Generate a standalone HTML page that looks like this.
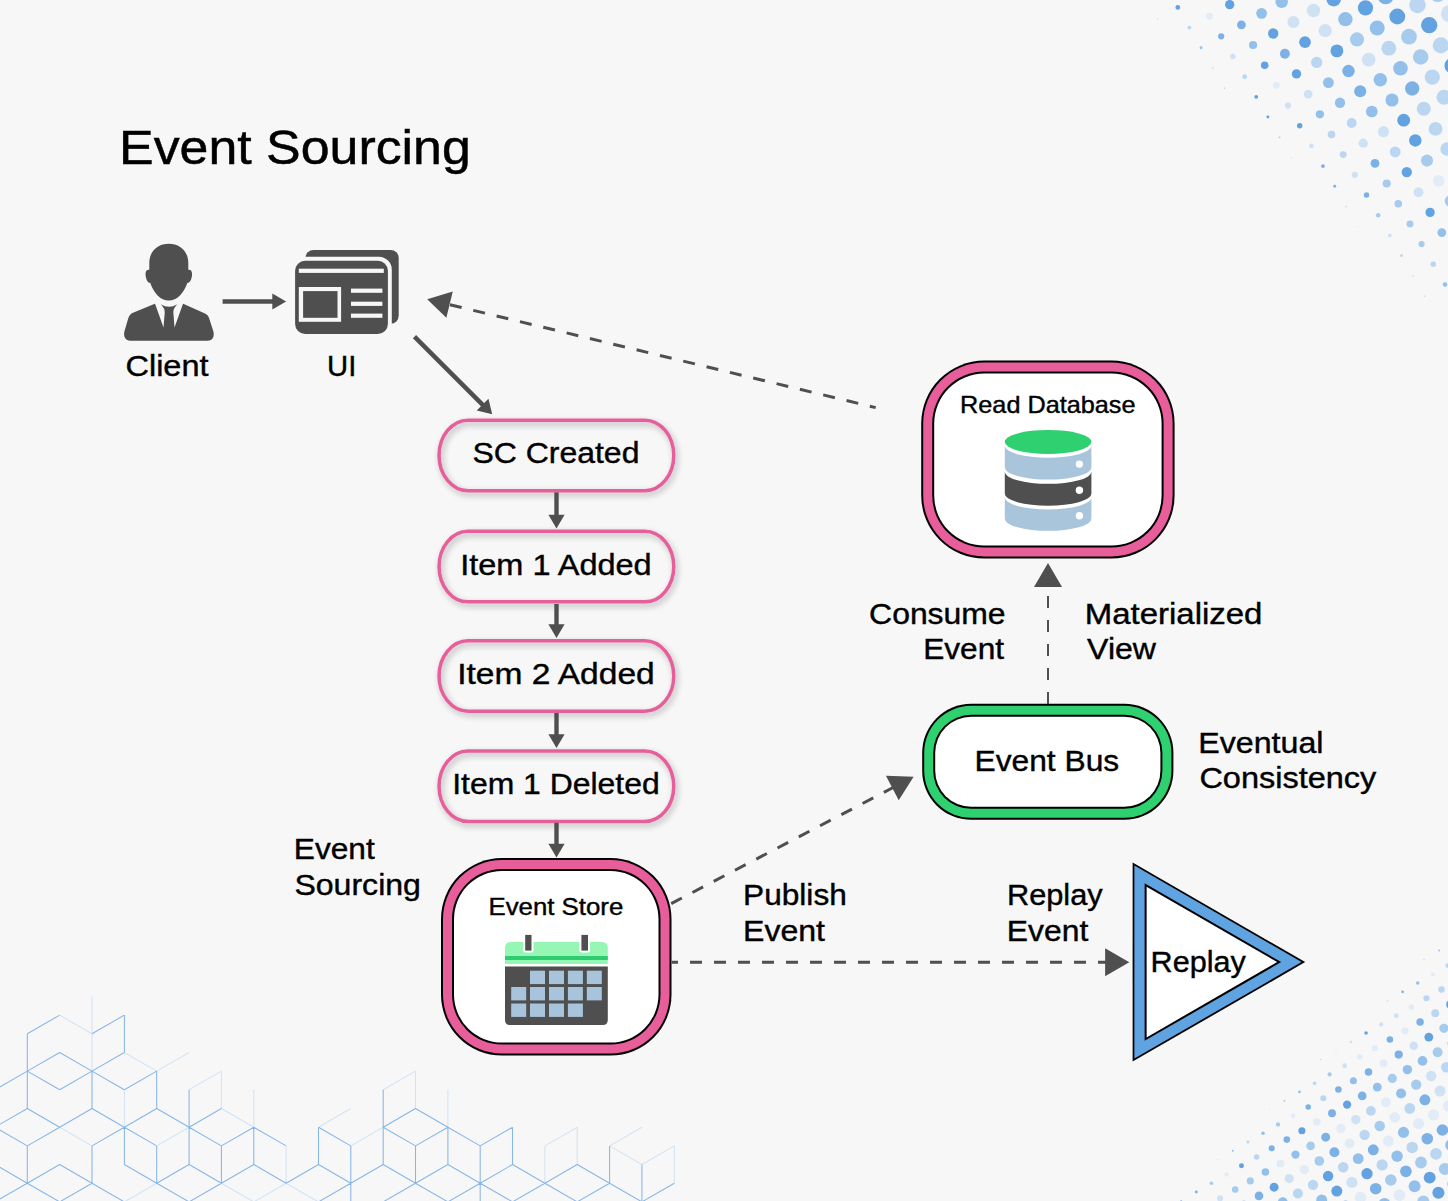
<!DOCTYPE html>
<html><head><meta charset="utf-8"><style>
html,body{margin:0;padding:0;background:#f7f7f7;}
svg{display:block;}
text{font-family:"Liberation Sans",sans-serif;fill:#000;}
</style></head><body>
<svg width="1448" height="1201" viewBox="0 0 1448 1201">
<defs>
<filter id="sh" x="-20%" y="-30%" width="140%" height="170%">
<feGaussianBlur in="SourceAlpha" stdDeviation="3"/>
<feOffset dx="2" dy="3" result="b"/>
<feComponentTransfer><feFuncA type="linear" slope="0.3"/></feComponentTransfer>
<feMerge><feMergeNode/><feMergeNode in="SourceGraphic"/></feMerge>
</filter>
</defs>
<rect width="1448" height="1201" fill="#f7f7f7"/>
<path d="M59.7,1015.1L92.0,1033.8M92.0,996.4L92.0,1033.8M92.0,1033.8L92.0,1071.1M124.4,1052.5L156.7,1071.1M156.7,1071.1L189.1,1052.5M124.4,1089.8L124.4,1127.2M189.1,1089.8L221.4,1071.1M221.4,1071.1L221.4,1108.5M253.8,1089.8L253.8,1127.2M221.4,1108.5L253.8,1127.2M59.7,1127.2L92.0,1145.9M156.7,1145.9L189.1,1127.2M124.4,1201.9L156.7,1183.2M221.4,1183.2L253.8,1201.9M286.1,1145.9L286.1,1183.2M253.8,1201.9L286.1,1183.2M286.1,1183.2L318.5,1201.9M318.5,1127.2L350.8,1108.5M350.8,1145.9L383.2,1127.2M383.2,1089.8L415.5,1071.1M415.5,1071.1L415.5,1108.5M447.9,1089.8L447.9,1127.2M544.9,1145.9L544.9,1183.2M544.9,1145.9L577.2,1127.2M577.2,1127.2L577.2,1164.5M609.6,1145.9L642.0,1164.5M609.6,1145.9L642.0,1127.2M641.9,1164.5L674.3,1145.9M674.3,1145.9L674.3,1183.2" stroke="#d3e3f3" stroke-width="1.05" fill="none"/>
<path d="M27.3,1033.8L59.7,1015.1M92.0,1033.8L124.3,1015.1M124.4,1015.1L124.4,1052.5M27.3,1033.8L27.3,1071.1M27.3,1071.1L59.7,1052.5M59.7,1052.5L92.0,1071.1M92.0,1071.1L124.3,1052.5M-5.1,1089.8L27.3,1071.1M27.3,1071.1L59.7,1089.8M59.7,1089.8L92.0,1071.1M92.0,1071.1L124.3,1089.8M124.4,1089.8L156.7,1071.1M27.3,1071.1L27.3,1108.5M92.0,1071.1L92.0,1108.5M156.7,1071.1L156.7,1108.5M189.1,1089.8L189.1,1127.2M-5.1,1127.2L27.3,1108.5M27.3,1108.5L59.7,1127.2M59.7,1127.2L92.0,1108.5M92.0,1108.5L124.3,1127.2M124.4,1127.2L156.7,1108.5M156.7,1108.5L189.1,1127.2M189.1,1127.2L221.4,1108.5M253.8,1127.2L286.1,1145.9M-5.1,1127.2L27.3,1145.9M27.3,1145.9L59.7,1127.2M92.0,1145.9L124.3,1127.2M124.4,1127.2L156.7,1145.9M189.1,1127.2L221.4,1145.9M221.4,1145.9L253.8,1127.2M27.3,1145.9L27.3,1183.2M92.0,1145.9L92.0,1183.2M124.4,1127.2L124.4,1164.5M156.7,1145.9L156.7,1183.2M189.1,1127.2L189.1,1164.5M221.4,1145.9L221.4,1183.2M253.8,1127.2L253.8,1164.5M-5.1,1164.5L27.3,1183.2M27.3,1183.2L59.7,1164.5M59.7,1164.5L92.0,1183.2M124.4,1164.5L156.7,1183.2M156.7,1183.2L189.1,1164.5M189.1,1164.5L221.4,1183.2M221.4,1183.2L253.8,1164.5M253.8,1164.5L286.1,1183.2M-5.1,1201.9L27.3,1183.2M27.3,1183.2L59.7,1201.9M59.7,1201.9L92.0,1183.2M92.0,1183.2L124.3,1201.9M156.7,1183.2L189.1,1201.9M189.1,1201.9L221.4,1183.2M286.1,1183.2L318.5,1164.5M318.5,1164.5L350.8,1183.2M350.8,1183.2L383.2,1164.5M383.2,1164.5L415.5,1183.2M415.5,1183.2L447.9,1164.5M447.9,1164.5L480.2,1183.2M318.5,1201.9L350.8,1183.2M350.8,1183.2L350.8,1220.6M383.2,1201.9L415.5,1183.2M415.5,1183.2L447.9,1201.9M447.9,1201.9L480.2,1183.2M318.5,1127.2L318.5,1164.5M318.5,1127.2L350.8,1145.9M350.8,1145.9L350.8,1183.2M383.2,1089.8L383.2,1127.2M383.2,1127.2L415.5,1108.5M415.5,1108.5L447.9,1127.2M383.2,1127.2L415.5,1145.9M415.5,1145.9L447.9,1127.2M447.9,1127.2L480.2,1145.9M383.2,1127.2L383.2,1164.5M415.5,1145.9L415.5,1183.2M447.9,1127.2L447.9,1164.5M480.2,1145.9L480.2,1183.2M480.2,1145.9L512.6,1127.2M512.5,1127.2L512.5,1164.5M480.2,1183.2L480.2,1220.6M480.2,1183.2L512.6,1164.5M512.5,1164.5L544.9,1183.2M544.9,1183.2L577.2,1164.5M577.2,1164.5L609.6,1183.2M609.6,1145.9L609.6,1183.2M641.9,1164.5L641.9,1201.9M641.9,1201.9L674.3,1183.2M609.6,1183.2L642.0,1201.9M480.2,1183.2L512.6,1201.9M512.5,1201.9L544.9,1183.2M544.9,1183.2L577.2,1201.9M577.2,1201.9L609.6,1183.2" stroke="#86b6e7" stroke-width="1.05" fill="none"/>
<circle cx="1145.9" cy="-1.3" r="1.04" fill="#62a2e1"/>
<circle cx="1157.6" cy="18.9" r="0.55" fill="#bad6f0"/>
<circle cx="1177.8" cy="7.4" r="2.35" fill="#62a2e1"/>
<circle cx="1189.4" cy="27.6" r="1.93" fill="#bad6f0"/>
<circle cx="1201.1" cy="47.7" r="1.49" fill="#93c0ea"/>
<circle cx="1212.7" cy="67.9" r="1.03" fill="#cfe2f4"/>
<circle cx="1224.4" cy="88.1" r="0.54" fill="#93c0ea"/>
<circle cx="1197.9" cy="-4.1" r="3.79" fill="#bad6f0"/>
<circle cx="1209.6" cy="16.1" r="3.46" fill="#e2ecf7"/>
<circle cx="1221.2" cy="36.3" r="3.10" fill="#7cb1e5"/>
<circle cx="1232.9" cy="56.5" r="2.73" fill="#cfe2f4"/>
<circle cx="1244.6" cy="76.7" r="2.34" fill="#bad6f0"/>
<circle cx="1256.2" cy="96.8" r="1.92" fill="#62a2e1"/>
<circle cx="1267.9" cy="117.0" r="1.48" fill="#62a2e1"/>
<circle cx="1279.5" cy="137.2" r="1.02" fill="#bad6f0"/>
<circle cx="1291.2" cy="157.4" r="0.52" fill="#bad6f0"/>
<circle cx="1229.7" cy="4.6" r="4.67" fill="#62a2e1"/>
<circle cx="1241.4" cy="24.8" r="4.39" fill="#7cb1e5"/>
<circle cx="1253.1" cy="45.0" r="4.09" fill="#93c0ea"/>
<circle cx="1264.7" cy="65.2" r="3.78" fill="#62a2e1"/>
<circle cx="1276.4" cy="85.4" r="3.45" fill="#e2ecf7"/>
<circle cx="1288.0" cy="105.5" r="3.10" fill="#cfe2f4"/>
<circle cx="1299.7" cy="125.7" r="2.72" fill="#62a2e1"/>
<circle cx="1311.4" cy="145.9" r="2.33" fill="#cfe2f4"/>
<circle cx="1323.0" cy="166.1" r="1.91" fill="#7cb1e5"/>
<circle cx="1334.7" cy="186.3" r="1.47" fill="#7cb1e5"/>
<circle cx="1346.3" cy="206.5" r="1.01" fill="#cfe2f4"/>
<circle cx="1358.0" cy="226.7" r="0.51" fill="#cfe2f4"/>
<circle cx="1249.9" cy="-6.9" r="5.64" fill="#a6cbed"/>
<circle cx="1261.6" cy="13.3" r="5.42" fill="#93c0ea"/>
<circle cx="1273.2" cy="33.5" r="5.18" fill="#62a2e1"/>
<circle cx="1284.9" cy="53.7" r="4.93" fill="#7cb1e5"/>
<circle cx="1296.5" cy="73.9" r="4.67" fill="#62a2e1"/>
<circle cx="1308.2" cy="94.1" r="4.39" fill="#cfe2f4"/>
<circle cx="1319.9" cy="114.3" r="4.09" fill="#93c0ea"/>
<circle cx="1331.5" cy="134.4" r="3.77" fill="#bad6f0"/>
<circle cx="1343.2" cy="154.6" r="3.44" fill="#bad6f0"/>
<circle cx="1354.8" cy="174.8" r="3.09" fill="#cfe2f4"/>
<circle cx="1366.5" cy="195.0" r="2.72" fill="#7cb1e5"/>
<circle cx="1378.2" cy="215.2" r="2.32" fill="#a6cbed"/>
<circle cx="1389.8" cy="235.4" r="1.91" fill="#cfe2f4"/>
<circle cx="1401.5" cy="255.6" r="1.46" fill="#bad6f0"/>
<circle cx="1413.1" cy="275.8" r="1.00" fill="#cfe2f4"/>
<circle cx="1424.8" cy="296.0" r="0.50" fill="#7cb1e5"/>
<circle cx="1281.7" cy="1.8" r="6.24" fill="#93c0ea"/>
<circle cx="1293.4" cy="22.0" r="6.05" fill="#cfe2f4"/>
<circle cx="1305.0" cy="42.2" r="5.85" fill="#62a2e1"/>
<circle cx="1316.7" cy="62.4" r="5.64" fill="#bad6f0"/>
<circle cx="1328.4" cy="82.6" r="5.41" fill="#93c0ea"/>
<circle cx="1340.0" cy="102.8" r="5.18" fill="#93c0ea"/>
<circle cx="1351.7" cy="123.0" r="4.93" fill="#bad6f0"/>
<circle cx="1363.3" cy="143.2" r="4.66" fill="#cfe2f4"/>
<circle cx="1375.0" cy="163.3" r="4.38" fill="#7cb1e5"/>
<circle cx="1386.7" cy="183.5" r="4.08" fill="#a6cbed"/>
<circle cx="1398.3" cy="203.7" r="3.77" fill="#a6cbed"/>
<circle cx="1410.0" cy="223.9" r="3.43" fill="#a6cbed"/>
<circle cx="1421.6" cy="244.1" r="3.08" fill="#a6cbed"/>
<circle cx="1433.3" cy="264.3" r="2.71" fill="#bad6f0"/>
<circle cx="1445.0" cy="284.5" r="2.31" fill="#93c0ea"/>
<circle cx="1456.6" cy="304.7" r="1.90" fill="#bad6f0"/>
<circle cx="1301.9" cy="-9.7" r="6.90" fill="#bad6f0"/>
<circle cx="1313.5" cy="10.5" r="6.75" fill="#cfe2f4"/>
<circle cx="1325.2" cy="30.7" r="6.59" fill="#cfe2f4"/>
<circle cx="1336.9" cy="50.9" r="6.42" fill="#62a2e1"/>
<circle cx="1348.5" cy="71.1" r="6.24" fill="#7cb1e5"/>
<circle cx="1360.2" cy="91.3" r="6.05" fill="#7cb1e5"/>
<circle cx="1371.8" cy="111.5" r="5.85" fill="#93c0ea"/>
<circle cx="1383.5" cy="131.7" r="5.63" fill="#cfe2f4"/>
<circle cx="1395.2" cy="151.9" r="5.41" fill="#bad6f0"/>
<circle cx="1406.8" cy="172.1" r="5.17" fill="#62a2e1"/>
<circle cx="1418.5" cy="192.2" r="4.92" fill="#cfe2f4"/>
<circle cx="1430.1" cy="212.4" r="4.65" fill="#62a2e1"/>
<circle cx="1441.8" cy="232.6" r="4.37" fill="#93c0ea"/>
<circle cx="1453.5" cy="252.8" r="4.08" fill="#a6cbed"/>
<circle cx="1333.7" cy="-0.9" r="7.30" fill="#62a2e1"/>
<circle cx="1345.4" cy="19.2" r="7.17" fill="#93c0ea"/>
<circle cx="1357.0" cy="39.4" r="7.04" fill="#a6cbed"/>
<circle cx="1368.7" cy="59.6" r="6.89" fill="#cfe2f4"/>
<circle cx="1380.3" cy="79.8" r="6.74" fill="#93c0ea"/>
<circle cx="1392.0" cy="100.0" r="6.58" fill="#93c0ea"/>
<circle cx="1403.7" cy="120.2" r="6.41" fill="#62a2e1"/>
<circle cx="1415.3" cy="140.4" r="6.23" fill="#62a2e1"/>
<circle cx="1427.0" cy="160.6" r="6.04" fill="#a6cbed"/>
<circle cx="1438.6" cy="180.8" r="5.84" fill="#e2ecf7"/>
<circle cx="1450.3" cy="201.0" r="5.63" fill="#a6cbed"/>
<circle cx="1365.5" cy="7.8" r="7.64" fill="#62a2e1"/>
<circle cx="1377.2" cy="28.0" r="7.53" fill="#93c0ea"/>
<circle cx="1388.8" cy="48.2" r="7.42" fill="#bad6f0"/>
<circle cx="1400.5" cy="68.3" r="7.30" fill="#93c0ea"/>
<circle cx="1412.2" cy="88.5" r="7.17" fill="#7cb1e5"/>
<circle cx="1423.8" cy="108.7" r="7.03" fill="#bad6f0"/>
<circle cx="1435.5" cy="128.9" r="6.89" fill="#bad6f0"/>
<circle cx="1447.1" cy="149.1" r="6.74" fill="#bad6f0"/>
<circle cx="1458.8" cy="169.3" r="6.58" fill="#bad6f0"/>
<circle cx="1385.7" cy="-3.7" r="8.01" fill="#7cb1e5"/>
<circle cx="1397.3" cy="16.5" r="7.93" fill="#62a2e1"/>
<circle cx="1409.0" cy="36.7" r="7.84" fill="#a6cbed"/>
<circle cx="1420.7" cy="56.9" r="7.74" fill="#a6cbed"/>
<circle cx="1432.3" cy="77.1" r="7.64" fill="#bad6f0"/>
<circle cx="1444.0" cy="97.2" r="7.53" fill="#bad6f0"/>
<circle cx="1455.6" cy="117.4" r="7.42" fill="#62a2e1"/>
<circle cx="1417.5" cy="5.0" r="8.24" fill="#bad6f0"/>
<circle cx="1429.2" cy="25.2" r="8.17" fill="#62a2e1"/>
<circle cx="1440.8" cy="45.4" r="8.09" fill="#bad6f0"/>
<circle cx="1452.5" cy="65.6" r="8.01" fill="#62a2e1"/>
<circle cx="1437.7" cy="-6.5" r="8.50" fill="#a6cbed"/>
<circle cx="1449.3" cy="13.7" r="8.44" fill="#cfe2f4"/>
<circle cx="1166.1" cy="1209.5" r="0.57" fill="#a6cbed"/>
<circle cx="1181.2" cy="1200.7" r="1.02" fill="#a6cbed"/>
<circle cx="1196.3" cy="1192.0" r="1.44" fill="#7cb1e5"/>
<circle cx="1205.0" cy="1207.1" r="2.81" fill="#bad6f0"/>
<circle cx="1202.6" cy="1168.2" r="0.40" fill="#e2ecf7"/>
<circle cx="1211.4" cy="1183.3" r="1.82" fill="#a6cbed"/>
<circle cx="1220.1" cy="1198.3" r="3.08" fill="#cfe2f4"/>
<circle cx="1217.7" cy="1159.4" r="0.55" fill="#cfe2f4"/>
<circle cx="1226.5" cy="1174.5" r="2.17" fill="#e2ecf7"/>
<circle cx="1235.2" cy="1189.6" r="3.33" fill="#a6cbed"/>
<circle cx="1243.9" cy="1204.7" r="4.15" fill="#93c0ea"/>
<circle cx="1232.8" cy="1150.7" r="1.00" fill="#93c0ea"/>
<circle cx="1241.5" cy="1165.8" r="2.49" fill="#62a2e1"/>
<circle cx="1250.3" cy="1180.9" r="3.56" fill="#a6cbed"/>
<circle cx="1259.0" cy="1195.9" r="4.32" fill="#7cb1e5"/>
<circle cx="1247.9" cy="1142.0" r="1.42" fill="#bad6f0"/>
<circle cx="1256.6" cy="1157.0" r="2.79" fill="#bad6f0"/>
<circle cx="1265.4" cy="1172.1" r="3.77" fill="#93c0ea"/>
<circle cx="1274.1" cy="1187.2" r="4.47" fill="#62a2e1"/>
<circle cx="1282.8" cy="1202.3" r="4.96" fill="#93c0ea"/>
<circle cx="1263.0" cy="1133.2" r="1.80" fill="#93c0ea"/>
<circle cx="1271.7" cy="1148.3" r="3.06" fill="#7cb1e5"/>
<circle cx="1280.4" cy="1163.4" r="3.96" fill="#e2ecf7"/>
<circle cx="1289.2" cy="1178.5" r="4.61" fill="#cfe2f4"/>
<circle cx="1297.9" cy="1193.5" r="5.06" fill="#bad6f0"/>
<circle cx="1306.7" cy="1208.6" r="5.39" fill="#7cb1e5"/>
<circle cx="1269.3" cy="1109.4" r="0.52" fill="#cfe2f4"/>
<circle cx="1278.0" cy="1124.5" r="2.15" fill="#a6cbed"/>
<circle cx="1286.8" cy="1139.6" r="3.31" fill="#7cb1e5"/>
<circle cx="1295.5" cy="1154.6" r="4.14" fill="#93c0ea"/>
<circle cx="1304.3" cy="1169.7" r="4.73" fill="#e2ecf7"/>
<circle cx="1313.0" cy="1184.8" r="5.15" fill="#bad6f0"/>
<circle cx="1321.7" cy="1199.9" r="5.45" fill="#93c0ea"/>
<circle cx="1284.4" cy="1100.7" r="0.98" fill="#a6cbed"/>
<circle cx="1293.1" cy="1115.7" r="2.48" fill="#e2ecf7"/>
<circle cx="1301.9" cy="1130.8" r="3.54" fill="#62a2e1"/>
<circle cx="1310.6" cy="1145.9" r="4.31" fill="#a6cbed"/>
<circle cx="1319.3" cy="1161.0" r="4.85" fill="#a6cbed"/>
<circle cx="1328.1" cy="1176.1" r="5.24" fill="#62a2e1"/>
<circle cx="1336.8" cy="1191.1" r="5.51" fill="#62a2e1"/>
<circle cx="1345.6" cy="1206.2" r="5.71" fill="#7cb1e5"/>
<circle cx="1299.5" cy="1091.9" r="1.39" fill="#93c0ea"/>
<circle cx="1308.2" cy="1107.0" r="2.77" fill="#7cb1e5"/>
<circle cx="1316.9" cy="1122.1" r="3.76" fill="#e2ecf7"/>
<circle cx="1325.7" cy="1137.2" r="4.46" fill="#7cb1e5"/>
<circle cx="1334.4" cy="1152.2" r="4.96" fill="#7cb1e5"/>
<circle cx="1343.2" cy="1167.3" r="5.32" fill="#bad6f0"/>
<circle cx="1351.9" cy="1182.4" r="5.57" fill="#cfe2f4"/>
<circle cx="1360.6" cy="1197.5" r="5.75" fill="#e2ecf7"/>
<circle cx="1314.5" cy="1083.2" r="1.78" fill="#bad6f0"/>
<circle cx="1323.3" cy="1098.3" r="3.05" fill="#bad6f0"/>
<circle cx="1332.0" cy="1113.3" r="3.95" fill="#7cb1e5"/>
<circle cx="1340.8" cy="1128.4" r="4.60" fill="#e2ecf7"/>
<circle cx="1349.5" cy="1143.5" r="5.06" fill="#e2ecf7"/>
<circle cx="1358.2" cy="1158.6" r="5.39" fill="#93c0ea"/>
<circle cx="1367.0" cy="1173.7" r="5.62" fill="#62a2e1"/>
<circle cx="1375.7" cy="1188.7" r="5.79" fill="#7cb1e5"/>
<circle cx="1384.5" cy="1203.8" r="5.91" fill="#93c0ea"/>
<circle cx="1320.9" cy="1059.4" r="0.49" fill="#62a2e1"/>
<circle cx="1329.6" cy="1074.4" r="2.13" fill="#a6cbed"/>
<circle cx="1338.4" cy="1089.5" r="3.30" fill="#7cb1e5"/>
<circle cx="1347.1" cy="1104.6" r="4.13" fill="#62a2e1"/>
<circle cx="1355.8" cy="1119.7" r="4.73" fill="#cfe2f4"/>
<circle cx="1364.6" cy="1134.8" r="5.15" fill="#bad6f0"/>
<circle cx="1373.3" cy="1149.8" r="5.45" fill="#7cb1e5"/>
<circle cx="1382.1" cy="1164.9" r="5.67" fill="#bad6f0"/>
<circle cx="1390.8" cy="1180.0" r="5.82" fill="#a6cbed"/>
<circle cx="1399.5" cy="1195.1" r="5.93" fill="#e2ecf7"/>
<circle cx="1408.3" cy="1210.2" r="6.01" fill="#93c0ea"/>
<circle cx="1336.0" cy="1050.6" r="0.95" fill="#e2ecf7"/>
<circle cx="1344.7" cy="1065.7" r="2.46" fill="#cfe2f4"/>
<circle cx="1353.4" cy="1080.8" r="3.53" fill="#93c0ea"/>
<circle cx="1362.2" cy="1095.9" r="4.30" fill="#7cb1e5"/>
<circle cx="1370.9" cy="1110.9" r="4.84" fill="#bad6f0"/>
<circle cx="1379.7" cy="1126.0" r="5.23" fill="#a6cbed"/>
<circle cx="1388.4" cy="1141.1" r="5.51" fill="#e2ecf7"/>
<circle cx="1397.1" cy="1156.2" r="5.71" fill="#93c0ea"/>
<circle cx="1405.9" cy="1171.3" r="5.85" fill="#7cb1e5"/>
<circle cx="1414.6" cy="1186.3" r="5.95" fill="#93c0ea"/>
<circle cx="1423.4" cy="1201.4" r="6.02" fill="#a6cbed"/>
<circle cx="1351.0" cy="1041.9" r="1.37" fill="#cfe2f4"/>
<circle cx="1359.8" cy="1057.0" r="2.76" fill="#e2ecf7"/>
<circle cx="1368.5" cy="1072.0" r="3.75" fill="#7cb1e5"/>
<circle cx="1377.3" cy="1087.1" r="4.45" fill="#93c0ea"/>
<circle cx="1386.0" cy="1102.2" r="4.95" fill="#e2ecf7"/>
<circle cx="1394.7" cy="1117.3" r="5.31" fill="#e2ecf7"/>
<circle cx="1403.5" cy="1132.4" r="5.57" fill="#93c0ea"/>
<circle cx="1412.2" cy="1147.4" r="5.75" fill="#bad6f0"/>
<circle cx="1421.0" cy="1162.5" r="5.88" fill="#a6cbed"/>
<circle cx="1429.7" cy="1177.6" r="5.97" fill="#62a2e1"/>
<circle cx="1438.4" cy="1192.7" r="6.04" fill="#62a2e1"/>
<circle cx="1447.2" cy="1207.8" r="6.08" fill="#bad6f0"/>
<circle cx="1366.1" cy="1033.1" r="1.76" fill="#62a2e1"/>
<circle cx="1374.9" cy="1048.2" r="3.03" fill="#e2ecf7"/>
<circle cx="1383.6" cy="1063.3" r="3.94" fill="#e2ecf7"/>
<circle cx="1392.3" cy="1078.4" r="4.59" fill="#a6cbed"/>
<circle cx="1401.1" cy="1093.5" r="5.05" fill="#93c0ea"/>
<circle cx="1409.8" cy="1108.5" r="5.38" fill="#bad6f0"/>
<circle cx="1418.6" cy="1123.6" r="5.62" fill="#e2ecf7"/>
<circle cx="1427.3" cy="1138.7" r="5.78" fill="#7cb1e5"/>
<circle cx="1436.0" cy="1153.8" r="5.90" fill="#bad6f0"/>
<circle cx="1444.8" cy="1168.9" r="5.99" fill="#a6cbed"/>
<circle cx="1453.5" cy="1183.9" r="6.05" fill="#7cb1e5"/>
<circle cx="1372.5" cy="1009.3" r="0.47" fill="#e2ecf7"/>
<circle cx="1381.2" cy="1024.4" r="2.11" fill="#cfe2f4"/>
<circle cx="1389.9" cy="1039.5" r="3.29" fill="#7cb1e5"/>
<circle cx="1398.7" cy="1054.6" r="4.12" fill="#7cb1e5"/>
<circle cx="1407.4" cy="1069.6" r="4.72" fill="#93c0ea"/>
<circle cx="1416.2" cy="1084.7" r="5.14" fill="#a6cbed"/>
<circle cx="1424.9" cy="1099.8" r="5.45" fill="#7cb1e5"/>
<circle cx="1433.6" cy="1114.9" r="5.66" fill="#e2ecf7"/>
<circle cx="1442.4" cy="1130.0" r="5.82" fill="#7cb1e5"/>
<circle cx="1451.1" cy="1145.0" r="5.93" fill="#93c0ea"/>
<circle cx="1459.9" cy="1160.1" r="6.01" fill="#93c0ea"/>
<circle cx="1387.5" cy="1000.6" r="0.93" fill="#cfe2f4"/>
<circle cx="1396.3" cy="1015.7" r="2.44" fill="#cfe2f4"/>
<circle cx="1405.0" cy="1030.7" r="3.52" fill="#e2ecf7"/>
<circle cx="1413.8" cy="1045.8" r="4.29" fill="#cfe2f4"/>
<circle cx="1422.5" cy="1060.9" r="4.84" fill="#93c0ea"/>
<circle cx="1431.2" cy="1076.0" r="5.23" fill="#cfe2f4"/>
<circle cx="1440.0" cy="1091.1" r="5.51" fill="#cfe2f4"/>
<circle cx="1448.7" cy="1106.1" r="5.71" fill="#e2ecf7"/>
<circle cx="1457.5" cy="1121.2" r="5.85" fill="#e2ecf7"/>
<circle cx="1402.6" cy="991.8" r="1.35" fill="#7cb1e5"/>
<circle cx="1411.4" cy="1006.9" r="2.74" fill="#e2ecf7"/>
<circle cx="1420.1" cy="1022.0" r="3.73" fill="#7cb1e5"/>
<circle cx="1428.8" cy="1037.1" r="4.44" fill="#62a2e1"/>
<circle cx="1437.6" cy="1052.2" r="4.95" fill="#a6cbed"/>
<circle cx="1446.3" cy="1067.2" r="5.31" fill="#bad6f0"/>
<circle cx="1455.1" cy="1082.3" r="5.56" fill="#a6cbed"/>
<circle cx="1417.7" cy="983.1" r="1.74" fill="#93c0ea"/>
<circle cx="1426.4" cy="998.2" r="3.02" fill="#bad6f0"/>
<circle cx="1435.2" cy="1013.3" r="3.93" fill="#bad6f0"/>
<circle cx="1443.9" cy="1028.3" r="4.58" fill="#a6cbed"/>
<circle cx="1452.7" cy="1043.4" r="5.05" fill="#62a2e1"/>
<circle cx="1424.0" cy="959.3" r="0.44" fill="#62a2e1"/>
<circle cx="1432.8" cy="974.4" r="2.09" fill="#e2ecf7"/>
<circle cx="1441.5" cy="989.4" r="3.27" fill="#bad6f0"/>
<circle cx="1450.3" cy="1004.5" r="4.11" fill="#62a2e1"/>
<circle cx="1459.0" cy="1019.6" r="4.71" fill="#bad6f0"/>
<circle cx="1439.1" cy="950.5" r="0.90" fill="#93c0ea"/>
<circle cx="1447.9" cy="965.6" r="2.42" fill="#bad6f0"/>
<circle cx="1456.6" cy="980.7" r="3.51" fill="#cfe2f4"/>
<circle cx="1454.2" cy="941.8" r="1.33" fill="#a6cbed"/>
<g fill="#4f4f4f">
<path d="M168.8,243.7 C158,243.7 149.3,251 149.3,263 L149.3,269.8 C146.5,269.5 145.2,271.5 145.6,275.5 C146.3,280.5 147.8,282.8 150.3,282.9 C153.5,292.5 160.5,300.6 168.8,300.6 C177.1,300.6 184.1,292.5 187.3,282.9 C189.8,282.8 191.3,280.5 192,275.5 C192.4,271.5 191.1,269.5 188.3,269.8 L188.3,263 C188.3,251 179.6,243.7 168.8,243.7 Z"/>
<path d="M154.85,303.7 L132.4,312.9 C130,314.3 129,316 128.2,318.5 L124.4,331.5 C123.2,336.5 125.5,340.8 130.5,340.8 L207.6,340.8 C212.6,340.8 214.6,336.5 213.4,331.5 L209.2,318.5 C208.4,316 207.4,314.6 205,313.5 L183.2,303.7 Z"/>
</g>
<path d="M154.6,302.6 L183.45,302.6 L174.5,327.5 L173.4,313 Q173,308.5 177.3,304.3 Q169,309.3 160.8,304.3 Q165,308.5 164.7,313 L163.5,327.5 Z" fill="#f7f7f7"/>
<line x1="222.60" y1="301.50" x2="273.00" y2="301.50" stroke="#4f4f4f" stroke-width="4.6"/>
<polygon points="286.10,301.50 272.30,309.60 272.30,293.40" fill="#4f4f4f"/>
<rect x="305.5" y="249.9" width="93.2" height="73.9" rx="8" fill="#4f4f4f"/>
<rect x="291.2" y="256.8" width="100.6" height="81" rx="13" fill="#f7f7f7"/>
<rect x="295.1" y="260.7" width="92.8" height="73.2" rx="10" fill="#4f4f4f"/>
<g fill="#f7f7f7">
<rect x="298.8" y="268.7" width="85" height="4.2"/>
<rect x="298.8" y="287" width="42.3" height="34.8"/>
<rect x="351" y="288.6" width="31.4" height="4.2"/>
<rect x="351" y="301.7" width="31.4" height="4.2"/>
<rect x="351" y="313.6" width="31.4" height="4.2"/>
</g>
<rect x="303.1" y="291.1" width="34.4" height="26.7" fill="#4f4f4f"/>
<line x1="414.50" y1="336.60" x2="483.71" y2="405.81" stroke="#4f4f4f" stroke-width="4.5"/>
<polygon points="492.20,414.30 476.71,410.55 488.45,398.81" fill="#4f4f4f"/>
<rect x="439.05" y="420.15" width="234.7" height="70.5" rx="29" ry="35.25" fill="none" stroke="#e75e9a" stroke-width="3.5" filter="url(#sh)"/>
<rect x="439.05" y="531.35" width="234.7" height="70.5" rx="29" ry="35.25" fill="none" stroke="#e75e9a" stroke-width="3.5" filter="url(#sh)"/>
<rect x="439.05" y="640.75" width="234.7" height="70.5" rx="29" ry="35.25" fill="none" stroke="#e75e9a" stroke-width="3.5" filter="url(#sh)"/>
<rect x="439.05" y="751.05" width="234.7" height="70.5" rx="29" ry="35.25" fill="none" stroke="#e75e9a" stroke-width="3.5" filter="url(#sh)"/>
<line x1="556.50" y1="492.40" x2="556.50" y2="516.60" stroke="#4f4f4f" stroke-width="4.4"/>
<polygon points="556.50,528.60 548.40,514.80 564.60,514.80" fill="#4f4f4f"/>
<line x1="556.50" y1="604.00" x2="556.50" y2="626.00" stroke="#4f4f4f" stroke-width="4.4"/>
<polygon points="556.50,638.00 548.40,624.20 564.60,624.20" fill="#4f4f4f"/>
<line x1="556.50" y1="713.00" x2="556.50" y2="736.00" stroke="#4f4f4f" stroke-width="4.4"/>
<polygon points="556.50,748.00 548.40,734.20 564.60,734.20" fill="#4f4f4f"/>
<line x1="556.50" y1="822.80" x2="556.50" y2="845.60" stroke="#4f4f4f" stroke-width="4.4"/>
<polygon points="556.50,857.60 548.40,843.80 564.60,843.80" fill="#4f4f4f"/>
<rect x="441.00" y="858.00" width="230.50" height="197.60" rx="61.00" fill="#000"/>
<rect x="443.00" y="860.00" width="226.50" height="193.60" rx="59.00" fill="#e75e9a"/>
<rect x="452.00" y="869.00" width="208.50" height="175.60" rx="50.00" fill="#000"/>
<rect x="454.00" y="871.00" width="204.50" height="171.60" rx="48.00" fill="#fff"/>
<path d="M505,964 L505,948 Q505,941.9 511,941.9 L601.8,941.9 Q607.8,941.9 607.8,948 L607.8,964 Z" fill="#96f7b5"/>
<rect x="505" y="956" width="102.8" height="4" fill="#2ecc71"/>
<path d="M505,966.4 L607.8,966.4 L607.8,1020 Q607.8,1025.1 602.8,1025.1 L510,1025.1 Q505,1025.1 505,1020 Z" fill="#4f4f4f"/>
<g fill="#a8c4dc"><rect x="530.0" y="970.7" width="15" height="13.4"/><rect x="549.0" y="970.7" width="15" height="13.4"/><rect x="567.9" y="970.7" width="15" height="13.4"/><rect x="586.8" y="970.7" width="15" height="13.4"/><rect x="511.2" y="987.0" width="15" height="13.4"/><rect x="530.0" y="987.0" width="15" height="13.4"/><rect x="549.0" y="987.0" width="15" height="13.4"/><rect x="567.9" y="987.0" width="15" height="13.4"/><rect x="586.8" y="987.0" width="15" height="13.4"/><rect x="511.2" y="1003.5" width="15" height="13.4"/><rect x="530.0" y="1003.5" width="15" height="13.4"/><rect x="549.0" y="1003.5" width="15" height="13.4"/><rect x="567.9" y="1003.5" width="15" height="13.4"/></g><rect x="523.2" y="933" width="10.3" height="19.6" rx="2" fill="#fff"/>
<rect x="579.4" y="933" width="10.6" height="19.6" rx="2" fill="#fff"/>
<rect x="525.2" y="934.9" width="6.3" height="15.7" fill="#4f4f4f"/>
<rect x="581.4" y="934.9" width="6.6" height="15.7" fill="#4f4f4f"/>
<rect x="921.20" y="360.60" width="253.40" height="197.90" rx="63.00" fill="#000"/>
<rect x="923.20" y="362.60" width="249.40" height="193.90" rx="61.00" fill="#e75e9a"/>
<rect x="932.20" y="371.60" width="231.40" height="175.90" rx="52.00" fill="#000"/>
<rect x="934.20" y="373.60" width="227.40" height="171.90" rx="50.00" fill="#fff"/>
<path d="M1004.8,445.7 A43.3,12 0 0 0 1091.3999999999999,445.7 L1091.3999999999999,467.6 A43.3,12 0 0 1 1004.8,467.6 Z" fill="#a9c5dc"/><path d="M1004.8,471.8 A43.3,12 0 0 0 1091.3999999999999,471.8 L1091.3999999999999,493.7 A43.3,12 0 0 1 1004.8,493.7 Z" fill="#4f4f4f"/><path d="M1004.8,497.5 A43.3,12 0 0 0 1091.3999999999999,497.5 L1091.3999999999999,518.8 A43.3,12 0 0 1 1004.8,518.8 Z" fill="#a9c5dc"/><ellipse cx="1048.1" cy="441.9" rx="43.3" ry="12" fill="#2fd070"/><circle cx="1079.4" cy="464.1" r="3.7" fill="#fff"/><circle cx="1079.4" cy="490.2" r="3.7" fill="#fff"/><circle cx="1079.4" cy="515.7" r="3.7" fill="#fff"/>
<rect x="922.20" y="703.80" width="251.20" height="116.00" rx="49.00" fill="#000"/>
<rect x="924.20" y="705.80" width="247.20" height="112.00" rx="47.00" fill="#2fd070"/>
<rect x="933.20" y="714.80" width="229.20" height="94.00" rx="38.00" fill="#000"/>
<rect x="935.20" y="716.80" width="225.20" height="90.00" rx="36.00" fill="#fff"/>
<polygon points="1132.60,862.50 1132.60,1061.60 1305.20,962.10" fill="#000"/>
<polygon points="1134.40,865.62 1134.40,1058.49 1301.60,962.10" fill="#5fa3e1"/>
<polygon points="1144.60,883.27 1144.60,1040.84 1281.20,962.09" fill="#000"/>
<polygon points="1146.60,886.73 1146.60,1037.38 1277.20,962.09" fill="#fff"/>
<line x1="875.70" y1="407.60" x2="448.58" y2="304.37" stroke="#4f4f4f" stroke-width="3" stroke-dasharray="12 12" stroke-dashoffset="6"/>
<polygon points="427.20,299.20 452.75,291.38 446.36,317.82" fill="#4f4f4f"/>
<line x1="671.20" y1="903.60" x2="894.11" y2="787.00" stroke="#4f4f4f" stroke-width="3" stroke-dasharray="12 12" stroke-dashoffset="0"/>
<polygon points="913.60,776.80 898.73,800.15 885.94,775.70" fill="#4f4f4f"/>
<line x1="671.50" y1="962.30" x2="1106.00" y2="962.30" stroke="#4f4f4f" stroke-width="3" stroke-dasharray="12 12" stroke-dashoffset="5.5"/>
<polygon points="1129.30,962.30 1105.10,976.30 1105.10,948.30" fill="#4f4f4f"/>
<line x1="1048.00" y1="704.00" x2="1048.00" y2="587.00" stroke="#4f4f4f" stroke-width="2" stroke-dasharray="12 12" stroke-dashoffset="0"/>
<polygon points="1048.00,563.10 1062.00,586.90 1034.00,586.90" fill="#4f4f4f"/>
<text x="119.05" y="164.20" font-size="48.8" textLength="351.77" lengthAdjust="spacingAndGlyphs" stroke="#000" stroke-width="0.5">Event Sourcing</text>
<text x="125.51" y="376.10" font-size="29.8" textLength="83.00" lengthAdjust="spacingAndGlyphs" stroke="#000" stroke-width="0.4">Client</text>
<text x="327.02" y="376.10" font-size="29.8" textLength="29.26" lengthAdjust="spacingAndGlyphs" stroke="#000" stroke-width="0.4">UI</text>
<text x="472.43" y="462.90" font-size="29.8" textLength="167.01" lengthAdjust="spacingAndGlyphs" stroke="#000" stroke-width="0.4">SC Created</text>
<text x="460.22" y="575.00" font-size="29.8" textLength="191.44" lengthAdjust="spacingAndGlyphs" stroke="#000" stroke-width="0.4">Item 1 Added</text>
<text x="457.15" y="684.00" font-size="29.8" textLength="197.54" lengthAdjust="spacingAndGlyphs" stroke="#000" stroke-width="0.4">Item 2 Added</text>
<text x="452.26" y="794.20" font-size="29.8" textLength="207.39" lengthAdjust="spacingAndGlyphs" stroke="#000" stroke-width="0.4">Item 1 Deleted</text>
<text x="488.50" y="914.60" font-size="23.4" textLength="134.74" lengthAdjust="spacingAndGlyphs" stroke="#000" stroke-width="0.4">Event Store</text>
<text x="960.12" y="412.90" font-size="23.4" textLength="175.37" lengthAdjust="spacingAndGlyphs" stroke="#000" stroke-width="0.4">Read Database</text>
<text x="974.57" y="771.10" font-size="29.8" textLength="144.61" lengthAdjust="spacingAndGlyphs" stroke="#000" stroke-width="0.4">Event Bus</text>
<text x="869.13" y="623.70" font-size="29.8" textLength="136.44" lengthAdjust="spacingAndGlyphs" stroke="#000" stroke-width="0.4">Consume</text>
<text x="923.17" y="659.40" font-size="29.8" textLength="80.98" lengthAdjust="spacingAndGlyphs" stroke="#000" stroke-width="0.4">Event</text>
<text x="1084.89" y="623.70" font-size="29.8" textLength="177.52" lengthAdjust="spacingAndGlyphs" stroke="#000" stroke-width="0.4">Materialized</text>
<text x="1087.10" y="659.40" font-size="29.8" textLength="68.85" lengthAdjust="spacingAndGlyphs" stroke="#000" stroke-width="0.4">View</text>
<text x="1198.34" y="752.70" font-size="29.8" textLength="125.10" lengthAdjust="spacingAndGlyphs" stroke="#000" stroke-width="0.4">Eventual</text>
<text x="1199.41" y="788.40" font-size="29.8" textLength="176.84" lengthAdjust="spacingAndGlyphs" stroke="#000" stroke-width="0.4">Consistency</text>
<text x="293.88" y="858.90" font-size="29.8" textLength="80.88" lengthAdjust="spacingAndGlyphs" stroke="#000" stroke-width="0.4">Event</text>
<text x="294.42" y="894.90" font-size="29.8" textLength="126.53" lengthAdjust="spacingAndGlyphs" stroke="#000" stroke-width="0.4">Sourcing</text>
<text x="743.08" y="905.10" font-size="29.8" textLength="103.70" lengthAdjust="spacingAndGlyphs" stroke="#000" stroke-width="0.4">Publish</text>
<text x="743.05" y="941.00" font-size="29.8" textLength="81.99" lengthAdjust="spacingAndGlyphs" stroke="#000" stroke-width="0.4">Event</text>
<text x="1006.94" y="905.10" font-size="29.8" textLength="95.72" lengthAdjust="spacingAndGlyphs" stroke="#000" stroke-width="0.4">Replay</text>
<text x="1006.86" y="941.00" font-size="29.8" textLength="81.38" lengthAdjust="spacingAndGlyphs" stroke="#000" stroke-width="0.4">Event</text>
<text x="1150.55" y="971.80" font-size="29.8" textLength="95.21" lengthAdjust="spacingAndGlyphs" stroke="#000" stroke-width="0.4">Replay</text>
</svg>
</body></html>
